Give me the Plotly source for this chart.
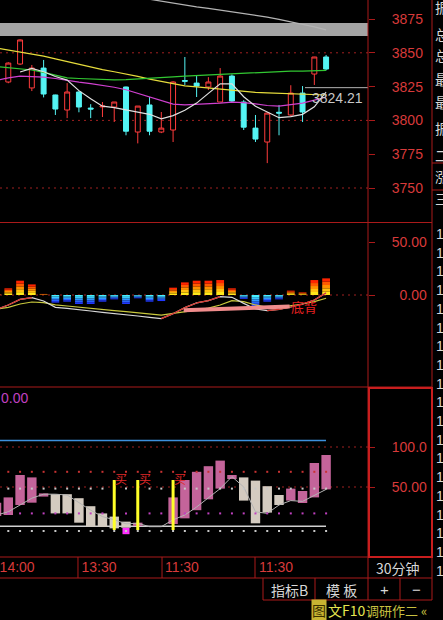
import plotly.graph_objects as go

W, H = 443, 620

# ---------------- data ----------------
idx = list(range(-1, 28))

open_ = [3823.9, 3828.4, 3841.7, 3824.0, 3838.7, 3818.8, 3807.7, 3821.0, 3809.1, 3810.0,
         3809.9, 3824.7, 3791.4, 3811.4, 3791.4, 3792.9, 3829.5, 3827.6, 3824.7, 3813.6,
         3832.8, 3813.6, 3794.3, 3784.0, 3806.0, 3804.0, 3820.2, 3834.3, 3846.9]
high = [3829.0, 3843.0, 3860.0, 3841.0, 3844.7, 3819.0, 3827.6, 3821.5, 3812.0, 3813.6,
        3813.6, 3825.0, 3810.6, 3817.3, 3806.2, 3829.0, 3846.9, 3832.8, 3832.0, 3838.7,
        3834.0, 3815.0, 3804.0, 3806.0, 3811.4, 3826.0, 3825.4, 3847.0, 3848.4]
low = [3823.0, 3827.5, 3841.0, 3821.7, 3817.0, 3804.0, 3801.7, 3806.0, 3801.7, 3802.5,
       3798.8, 3789.0, 3783.0, 3789.0, 3790.6, 3784.0, 3826.2, 3817.3, 3822.5, 3813.6,
       3813.0, 3792.9, 3784.0, 3768.4, 3789.0, 3803.0, 3798.8, 3826.2, 3837.0]
close = [3828.4, 3842.4, 3859.5, 3838.7, 3819.5, 3808.4, 3821.0, 3809.9, 3808.4, 3810.6,
         3813.6, 3792.0, 3810.6, 3792.0, 3794.3, 3828.4, 3829.0, 3825.4, 3828.4, 3832.8,
         3814.3, 3795.0, 3786.2, 3805.4, 3805.4, 3820.2, 3806.2, 3846.9, 3838.0]

ma_yellow = [3853.5, 3852.0, 3851.0, 3849.5, 3847.5, 3845.5, 3843.4, 3841.5, 3839.5, 3837.5,
             3836.0, 3834.5, 3832.5, 3830.5, 3829.0, 3827.5, 3825.6, 3824.8, 3824.0, 3823.0,
             3822.0, 3821.2, 3820.7, 3820.3, 3819.9, 3819.6, 3819.3, 3819.0, 3818.8]
ma_green = [3839.8, 3839.0, 3838.2, 3837.3, 3835.5, 3833.5, 3831.5, 3831.0, 3830.5, 3830.2,
            3830.0, 3830.2, 3830.6, 3831.0, 3831.5, 3832.2, 3832.8, 3833.2, 3833.6, 3834.2,
            3834.6, 3835.0, 3835.4, 3836.0, 3836.4, 3836.5, 3836.5, 3836.6, 3837.0]
ma_magenta = [3829.5, 3831.5, 3832.8, 3832.5, 3832.0, 3831.0, 3829.5, 3828.3, 3827.2, 3826.0,
              3824.5, 3822.7, 3820.0, 3817.5, 3815.0, 3812.0, 3811.5, 3811.8, 3812.0, 3812.8,
              3813.5, 3813.2, 3812.2, 3811.0, 3810.6, 3811.8, 3812.8, 3815.0, 3817.3]
ma_white_idx = list(range(1, 28))
ma_white = [3835.8, 3838.5, 3836.0, 3832.5, 3829.8, 3822.0, 3816.0, 3810.5, 3809.5, 3807.8,
            3806.5, 3804.5, 3801.2, 3803.5, 3807.5, 3812.8, 3820.0, 3827.0, 3827.0, 3817.5,
            3810.5, 3806.0, 3802.0, 3802.8, 3804.5, 3810.0, 3821.0]
ma_gray_idx = list(range(11, 28))
ma_gray = [3891.0, 3889.5, 3888.0, 3886.6, 3885.3, 3884.0, 3882.8, 3881.5, 3880.2, 3879.2,
           3877.9, 3876.4, 3874.7, 3873.0, 3871.3, 3869.2, 3867.0]
last_price = 3824.21
price_ticks = [3750, 3775, 3800, 3825, 3850, 3875]

macd_hist = [1.0, 6.3, 13.5, 10.0, 1.0, -7.2, -6.3, -8.5, -8.5, -6.3, -4.1, -8.5, -3.1, -6.3,
             -5.7, 6.9, 11.9, 13.5, 13.5, 14.1, 6.3, -3.8, -10.4, -6.3, -4.1, 4.1, 2.5, 14.1, 15.7]
dif = [-13.5, -9.4, -4.1, -2.5, -5.7, -11.6, -12.6, -14.2, -15.1, -16.4, -17.3, -18.9, -19.8,
       -21.1, -22.3, -17.6, -11.9, -7.5, -5.3, -1.6, -2.2, -7.9, -13.2, -14.8, -13.5, -11.3,
       -8.5, -4.7, 2.0]
dea = [-13.5, -11.6, -8.5, -6.6, -7.2, -9.4, -10.4, -11.6, -12.9, -13.5, -14.8, -15.7, -16.7,
       -17.9, -18.9, -17.3, -16.0, -14.2, -12.3, -9.4, -5.3, -6.3, -9.4, -11.6, -11.6, -10.4,
       -8.5, -6.3, -3.1]
div_idx = [14.9, 23.9]
div_val = [-14.5, -10.8]
macd_ticks = [0, 50]
macd_ticktext = ["\u20070.00", "50.00"]

kdj_top = [30.4, 37, 65, 62, 42, 41, 41, 36, 26, 17, 13, 6.7, 5.4, None, None, 37, 58.75, 69,
           76, 83, 65, 62, 58, 51, 40, 48, 45, 80, 90]
kdj_bot = [13.75, 15, 27.5, 30.4, 38, 17, 17, 5.4, 0.4, 0, -1.7, -1, 1.25, None, None, 3.75,
           10.8, 21, 34.6, 48, 60, 33, 4.6, 18, 27.5, 33, 30, 37, 47]
kdj_up = [1, 1, 1, 1, 1, 0, 0, 0, 0, 0, 0, 0, 1, None, None, 1, 1, 1, 1, 1, 1, 0, 0, 0, 0, 1,
          1, 1, 1]
kdj_line = [15, 19, 27.5, 36, 41, 41, 40, 30, 21, 13, 9, 4, 4.6, 0.4, 0.4, 9, 15, 25, 36, 48,
            63, 50, 19, 17, 27.5, 33, 32, 40, 47]
low_block_idx = [10]
low_block_top = [-1]
low_block_bot = [-9]
buy_idx = [9, 11, 14]
buy_top = 58.75
buy_bottom = -3.75
buy_text_level = 61
blue_level = 108
base_level = 1
dot_levels = [69, 48, 17, -5]
dot_colors = ["#c83232", "#c8c8c8", "#c040c0", "#c8c8c8"]
kdj_ticks = [50, 100]
kdj_ticktext = ["50.00", "100.0"]

time_pos = [0.75, 7.7, 14.75, 22.75]
time_labels = ["14:00", "13:30", "11:30", "11:30"]
time_sep = [5.92, 13.06, 20.96]

# ---------------- helpers ----------------
def px(x):
    return x / W


def py(y):
    return 1 - y / H


RED = "#d83a3a"
BORDER = "#aa1a1a"
GRID = "#a02020"
LIGHT = "#d8d8d8"
XR = [-0.705, 30.56]

fig = go.Figure()

# ---------------- panel 1: candles + MAs ----------------
fig.add_trace(go.Candlestick(
    x=idx, open=open_, high=high, low=low, close=close,
    increasing=dict(line=dict(color="#ff3c3c", width=1), fillcolor="#000000"),
    decreasing=dict(line=dict(color="#54f4f4", width=1), fillcolor="#54f4f4"),
    whiskerwidth=0, xaxis="x", yaxis="y", hoverinfo="skip"))
fig.add_trace(go.Scatter(x=idx, y=ma_yellow, mode="lines", line=dict(color="#e6dc3c", width=1.2),
                         xaxis="x", yaxis="y"))
fig.add_trace(go.Scatter(x=idx, y=ma_green, mode="lines", line=dict(color="#32c832", width=1.2),
                         xaxis="x", yaxis="y"))
fig.add_trace(go.Scatter(x=idx, y=ma_magenta, mode="lines", line=dict(color="#d040d0", width=1.2),
                         xaxis="x", yaxis="y"))
fig.add_trace(go.Scatter(x=ma_white_idx, y=ma_white, mode="lines", line=dict(color="#e0e0e0", width=1.2),
                         xaxis="x", yaxis="y"))
fig.add_trace(go.Scatter(x=ma_gray_idx, y=ma_gray, mode="lines", line=dict(color="#b4b4b4", width=1.2),
                         xaxis="x", yaxis="y"))

# ---------------- panel 2: MACD ----------------
N = 5
pos_cols = ["#ffe81a", "#ffc010", "#ff9000", "#ff5a00", "#ff2400"]
neg_cols = ["#48f0ff", "#38c8ff", "#3098ff", "#2864ff", "#2038ff"]
for k in range(N):
    fig.add_trace(go.Bar(
        x=idx, y=[v / N for v in macd_hist], base=[v * k / N for v in macd_hist],
        marker=dict(color=[pos_cols[k] if v >= 0 else neg_cols[k] for v in macd_hist],
                    line=dict(width=0)),
        width=0.66, xaxis="x2", yaxis="y2", hoverinfo="skip"))

fig.add_trace(go.Scatter(x=idx, y=dea, mode="lines", line=dict(color="#c8c83c", width=1.2),
                         xaxis="x2", yaxis="y2"))
fig.add_trace(go.Scatter(x=idx, y=dif, mode="lines", line=dict(color="#d8d8d8", width=1.2),
                         xaxis="x2", yaxis="y2"))
rx, ry = [], []
for i in range(len(dif) - 1):
    if dif[i + 1] > dif[i]:
        rx += [idx[i], idx[i + 1], None]
        ry += [dif[i], dif[i + 1], None]
fig.add_trace(go.Scatter(x=rx, y=ry, mode="lines", line=dict(color="#d83228", width=1.2),
                         xaxis="x2", yaxis="y2"))
fig.add_trace(go.Scatter(x=div_idx, y=div_val, mode="lines", line=dict(color="#f08c8c", width=4),
                         xaxis="x2", yaxis="y2"))

# ---------------- panel 3 ----------------
for flag, col in [(1, "#c4649a"), (0, "#d4cbc0")]:
    xs = [i for i, u in zip(idx, kdj_up) if u == flag]
    tops = [t for t, u in zip(kdj_top, kdj_up) if u == flag]
    bots = [b for b, u in zip(kdj_bot, kdj_up) if u == flag]
    fig.add_trace(go.Bar(x=xs, y=[t - b for t, b in zip(tops, bots)], base=bots,
                         marker=dict(color=col, line=dict(width=0)), width=0.8,
                         xaxis="x3", yaxis="y3", hoverinfo="skip"))
fig.add_trace(go.Bar(x=low_block_idx, y=[t - b for t, b in zip(low_block_top, low_block_bot)],
                     base=low_block_bot, marker=dict(color="#ff30ff", line=dict(width=0)), width=0.6,
                     xaxis="x3", yaxis="y3", hoverinfo="skip"))
fig.add_trace(go.Scatter(x=idx, y=kdj_line, mode="lines", line=dict(color="#b4b4b4", width=1),
                         xaxis="x3", yaxis="y3"))
for lvl, col in zip(dot_levels, dot_colors):
    fig.add_trace(go.Scatter(x=idx[1:], y=[lvl] * (len(idx) - 1), mode="markers",
                             marker=dict(color=col, size=2, symbol="square"),
                             xaxis="x3", yaxis="y3"))
bx, by = [], []
for b in buy_idx:
    bx += [b, b, None]
    by += [buy_top, buy_bottom, None]
fig.add_trace(go.Scatter(x=bx, y=by, mode="lines", line=dict(color="#ffff28", width=3),
                         xaxis="x3", yaxis="y3"))

# ---------------- axes ----------------
common_x = dict(domain=[0, px(368)], range=XR, showgrid=False, zeroline=False, showline=False,
                fixedrange=True)
ytick = dict(side="right", ticks="outside", ticklen=6, tickcolor=BORDER, tickwidth=1,
             tickfont=dict(family="Liberation Sans", size=14, color=RED), showgrid=False,
             zeroline=False, showline=False, ticklabelstandoff=14, fixedrange=True)

layout = dict(
    width=W, height=H, margin=dict(l=0, r=0, t=0, b=0),
    paper_bgcolor="#000000", plot_bgcolor="#000000", showlegend=False,
    barmode="overlay", boxgap=0.4,
    xaxis=dict(common_x, anchor="y", showticklabels=False, rangeslider=dict(visible=False)),
    xaxis2=dict(common_x, anchor="y2", showticklabels=False, matches="x"),
    xaxis3=dict(common_x, anchor="y3", matches="x", tickvals=time_pos, ticktext=time_labels,
                ticks="", ticklabeloverflow="allow",
                tickfont=dict(family="Liberation Sans", size=14, color=RED)),
    yaxis=dict(ytick, domain=[py(222), 1], range=[3724.85, 3889.05], anchor="x",
               tickvals=price_ticks, ticktext=[str(t) for t in price_ticks]),
    yaxis2=dict(ytick, domain=[py(387), py(223)], range=[-86.79, 67.92], anchor="x2",
                tickvals=macd_ticks, ticktext=macd_ticktext),
    yaxis3=dict(ytick, domain=[py(557), py(388)], range=[-37.5, 173.75], anchor="x3",
                tickvals=kdj_ticks, ticktext=kdj_ticktext),
)
fig.update_layout(**layout)

shapes = []


def pline(x0, y0, x1, y1, color=BORDER, width=1, dash=None):
    d = dict(type="line", xref="paper", yref="paper", x0=px(x0), y0=py(y0), x1=px(x1), y1=py(y1),
             line=dict(color=color, width=width), layer="above")
    if dash:
        d["line"]["dash"] = dash
    shapes.append(d)


# gray band near the top
shapes.append(dict(type="rect", xref="paper", yref="paper", x0=0, x1=px(368), y0=py(36), y1=py(23),
                   fillcolor="#a4a4a4", line=dict(width=0), layer="below"))
# dotted grids
for yv in [3750, 3800, 3850]:
    shapes.append(dict(type="line", xref="x domain", yref="y", x0=0, x1=1, y0=yv, y1=yv,
                       line=dict(color=GRID, width=1, dash="2px,4px"), layer="below"))
shapes.append(dict(type="line", xref="x2 domain", yref="y2", x0=0, x1=1, y0=0, y1=0,
                   line=dict(color=GRID, width=1, dash="2px,4px"), layer="below"))
for yv in kdj_ticks:
    shapes.append(dict(type="line", xref="x3 domain", yref="y3", x0=0, x1=1, y0=yv, y1=yv,
                       line=dict(color=GRID, width=1, dash="2px,4px"), layer="below"))
# last price line
shapes.append(dict(type="line", xref="x domain", yref="y", x0=305 / 368, x1=1, y0=last_price,
                   y1=last_price, line=dict(color="#b4b4b4", width=1)))
# level lines in panel 3
shapes.append(dict(type="line", xref="x3 domain", yref="y3", x0=0, x1=326 / 368, y0=blue_level,
                   y1=blue_level, line=dict(color="#3c90dc", width=1.5)))
shapes.append(dict(type="line", xref="x3 domain", yref="y3", x0=0, x1=326 / 368, y0=base_level,
                   y1=base_level, line=dict(color="#d0d0d0", width=1.5), layer="below"))

# frame lines
pline(368, 0, 368, 600)
pline(432, 0, 432, 600)
for yy in [222.5, 387, 557, 578]:
    pline(0, yy, 432, yy)
pline(263, 600, 432, 600)
for xx in [263, 315, 400]:
    pline(xx, 578, xx, 600)
for s in time_sep:
    shapes.append(dict(type="line", xref="x3", yref="paper", x0=s, x1=s, y0=py(557), y1=py(578),
                       line=dict(color=BORDER, width=1)))
shapes.append(dict(type="rect", xref="paper", yref="paper", x0=px(369), x1=px(432), y0=py(557),
                   y1=py(388), line=dict(color="#c81e1e", width=2)))
pline(432, 163, 443, 163)
pline(432, 190, 443, 190)

fig.update_layout(shapes=shapes)

# ---------------- texts ----------------
ann = []


def ptext(text, x, y, color=LIGHT, size=14, xanchor="left", family="Noto Sans CJK SC", **kw):
    a = dict(text=text, xref="paper", yref="paper", x=px(x), y=py(y), xanchor=xanchor,
             yanchor="middle", showarrow=False, font=dict(color=color, size=size, family=family))
    a.update(kw)
    ann.append(a)


ptext(f"{last_price:.2f}", 310, 98, color="#c8c8c8", size=14, family="Liberation Sans")
ptext("0.00", -1, 398, color="#c040c0", size=14, family="Liberation Sans")
ann.append(dict(text="底背", xref="x2", yref="y2", x=25.1, y=-10.6, showarrow=False,
                font=dict(color="#e82020", size=13, family="Noto Sans CJK SC")))
for b in buy_idx:
    ann.append(dict(text="买", xref="x3", yref="y3", x=b + 0.6, y=buy_text_level, showarrow=False,
                    font=dict(color="#e02828", size=12, family="Noto Sans CJK SC")))
ptext("30分钟", 398, 568, xanchor="center", size=14)
ptext("指标B", 289, 590, xanchor="center", size=14)
ptext("模 板", 341, 590, xanchor="center", size=14)
ptext("+", 384, 589, xanchor="center", size=15, family="Liberation Sans")
ptext("−", 416, 589, xanchor="center", size=15, family="Liberation Sans")
ptext("图", 311, 610, color="#3a3000", size=14, bgcolor="#c8b432", borderpad=0)
ptext("文F10", 326, 610, color="#e6e650", size=14)
ptext("调研作二 «", 364, 610, color="#c8c040", size=13)
for i, ch in enumerate(["振", "总", "总", "最", "最", "振", "二", "涨", "三"]):
    ptext(ch, 433, [7, 34, 55, 79, 102, 128, 155, 176, 198][i], size=14)
for k in range(19):
    ptext("1", 434, 234 + k * 18.7, size=14, family="Liberation Sans")

fig.update_layout(annotations=ann)

fig.write_html(
    "out.html",
    config={"displayModeBar": False, "staticPlot": True},
    post_script="document.body.style.margin='0';document.body.style.overflow='hidden';",
)
